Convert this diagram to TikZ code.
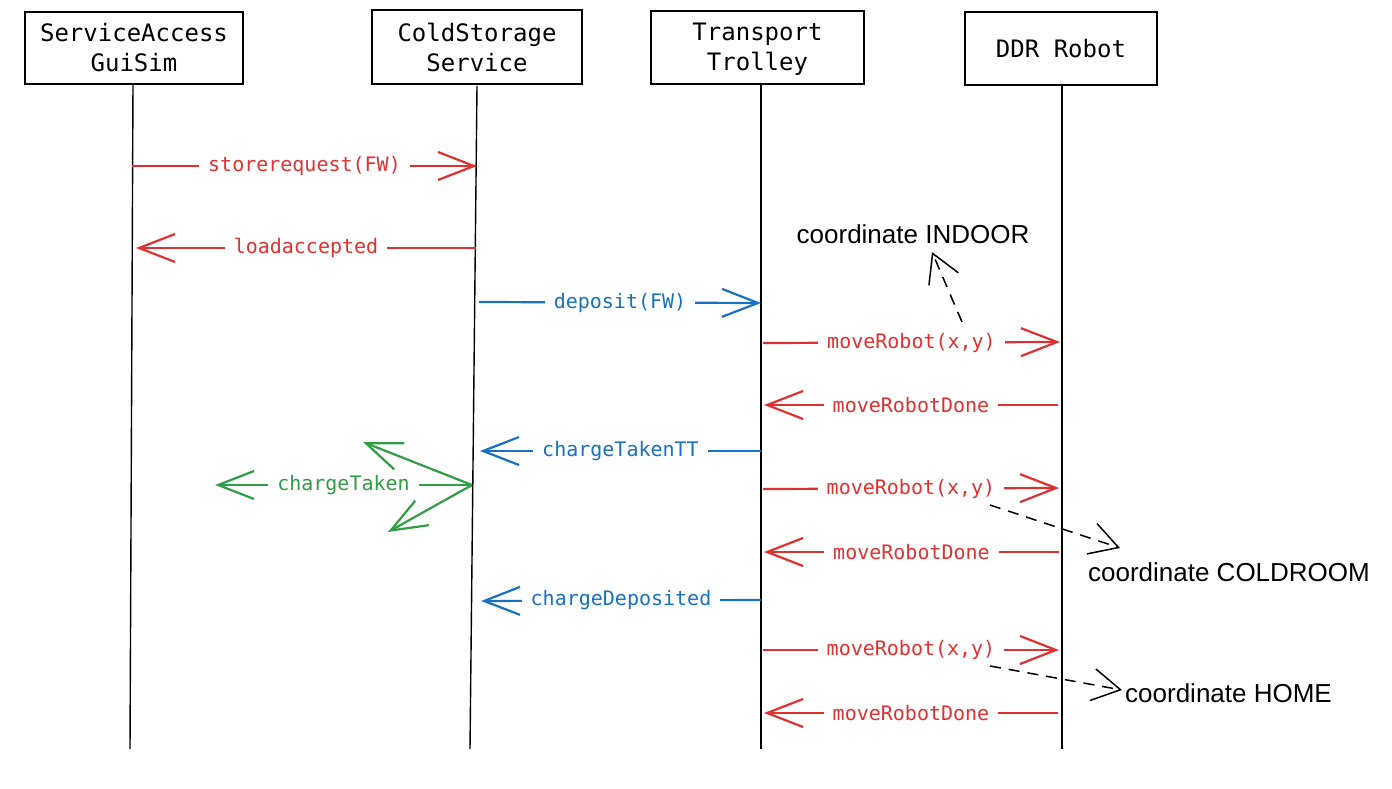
\documentclass[tikz,border=0pt]{standalone}
\usepackage{fontspec}
\setmonofont{DejaVu Sans Mono}
\newfontfamily\handfont{Liberation Sans}
\usetikzlibrary{arrows.meta}
\definecolor{xred}{HTML}{E03131}
\definecolor{xblue}{HTML}{1971C2}
\definecolor{xgreen}{HTML}{2F9E44}
\begin{document}
\begin{tikzpicture}[x=1pt,y=-1pt,
  actor/.style={draw=black, line width=1.8pt, rectangle, align=center, inner sep=0pt,
    font=\fontsize{24}{30}\selectfont\ttfamily},
  life/.style={draw=black, line width=1.4pt},
  barb/.style={-{Straight Barb[length=36pt,width=28pt]}},
  msg/.style={barb, line width=2.2pt},
  lbl/.style={fill=white, inner xsep=9pt, inner ysep=2pt, font=\fontsize{20}{22}\selectfont\ttfamily},
  note/.style={font=\fontsize{26}{30}\selectfont\handfont, text=black, inner sep=0pt},
  dashline/.style={draw=black, line width=1.5pt, dash pattern=on 11pt off 8pt,
    -{Straight Barb[length=28pt,width=32pt]}}
]
\useasboundingbox (0,0) rectangle (1392,789);
\fill[white] (0,0) rectangle (1392,789);

% actors
\node[actor, minimum width=218pt, minimum height=72pt] (sa) at (134,48) {ServiceAccess\\GuiSim};
\node[actor, minimum width=210pt, minimum height=74pt] (cs) at (477,47) {ColdStorage\\Service};
\node[actor, minimum width=213pt, minimum height=73pt] (tt) at (757.5,47.5) {\rule{0pt}{20pt}Transport\\Trolley};
\node[actor, minimum width=192pt, minimum height=73pt] (dr) at (1061,48.5) {DDR Robot};

% lifeline ends
\coordinate (saT) at (133,84);  \coordinate (saB) at (130,749);
\coordinate (csT) at (477,86);  \coordinate (csB) at (470,749);
\coordinate (ttT) at (761,84);  \coordinate (ttB) at (761,749);
\coordinate (drT) at (1062,85); \coordinate (drB) at (1062,749);
\draw[life] (saT) -- (saB);
\draw[life] (csT) -- (csB);
\draw[life] (ttT) -- (ttB);
\draw[life] (drT) -- (drB);

% message end points
\coordinate (m1s) at (132,166);  \coordinate (m1e) at (477,166);
\coordinate (m2s) at (476,248);  \coordinate (m2e) at (136,248);
\coordinate (m3s) at (479,302);  \coordinate (m3e) at (761,303);
\coordinate (m4s) at (763,343);  \coordinate (m4e) at (1060,342);
\coordinate (m5s) at (1058,405); \coordinate (m5e) at (764,405);
\coordinate (m6s) at (761,451);  \coordinate (m6e) at (480,451);
\coordinate (m7s) at (472,485);  \coordinate (m7e) at (215,485);
\coordinate (m7u) at (363,442);  \coordinate (m7d) at (388,532);
\coordinate (m8s) at (763,489);  \coordinate (m8e) at (1059,488);
\coordinate (m9s) at (1059,552); \coordinate (m9e) at (764,552);
\coordinate (m10s) at (761,600); \coordinate (m10e) at (481,601);
\coordinate (m11s) at (763,650); \coordinate (m11e) at (1059,650);
\coordinate (m12s) at (1058,713);\coordinate (m12e) at (764,713);

\draw[msg, xred] (m1s) -- node[lbl, text=xred]{storerequest(FW)} (m1e);
\draw[msg, xred] (m2s) -- node[lbl, text=xred]{loadaccepted} (m2e);
\draw[msg, xblue] (m3s) -- node[lbl, text=xblue]{deposit(FW)} (m3e);
\draw[msg, xred] (m4s) -- node[lbl, text=xred]{moveRobot(x,y)} (m4e);
\draw[msg, xred] (m5s) -- node[lbl, text=xred]{moveRobotDone} (m5e);
\draw[msg, xblue] (m6s) -- node[lbl, text=xblue]{chargeTakenTT} (m6e);
\draw[msg, xgreen] (m7s) -- (m7u);
\draw[msg, xgreen] (m7s) -- (m7d);
\draw[msg, xgreen] (m7s) -- node[lbl, text=xgreen]{chargeTaken} (m7e);
\draw[msg, xred] (m8s) -- node[lbl, text=xred]{moveRobot(x,y)} (m8e);
\draw[msg, xred] (m9s) -- node[lbl, text=xred]{moveRobotDone} (m9e);
\draw[msg, xblue] (m10s) -- node[lbl, text=xblue]{chargeDeposited} (m10e);
\draw[msg, xred] (m11s) -- node[lbl, text=xred]{moveRobot(x,y)} (m11e);
\draw[msg, xred] (m12s) -- node[lbl, text=xred]{moveRobotDone} (m12e);

% annotations
\node[note] (indoor) at (913,234) {coordinate INDOOR};
\node[note] (coldroom) at (1229,572) {coordinate COLDROOM};
\node[note, anchor=west] (home) at (1125,693) {coordinate HOME};
\coordinate (a1s) at (962,322); \coordinate (a1e) at (932,252);
\coordinate (a2s) at (990,505); \coordinate (a2e) at (1120,548);
\coordinate (a3s) at (990,666); \coordinate (a3e) at (1122,690);
\draw[dashline] (a1s) -- (a1e);
\draw[dashline] (a2s) -- (a2e);
\draw[dashline] (a3s) -- (a3e);
\end{tikzpicture}
\end{document}
